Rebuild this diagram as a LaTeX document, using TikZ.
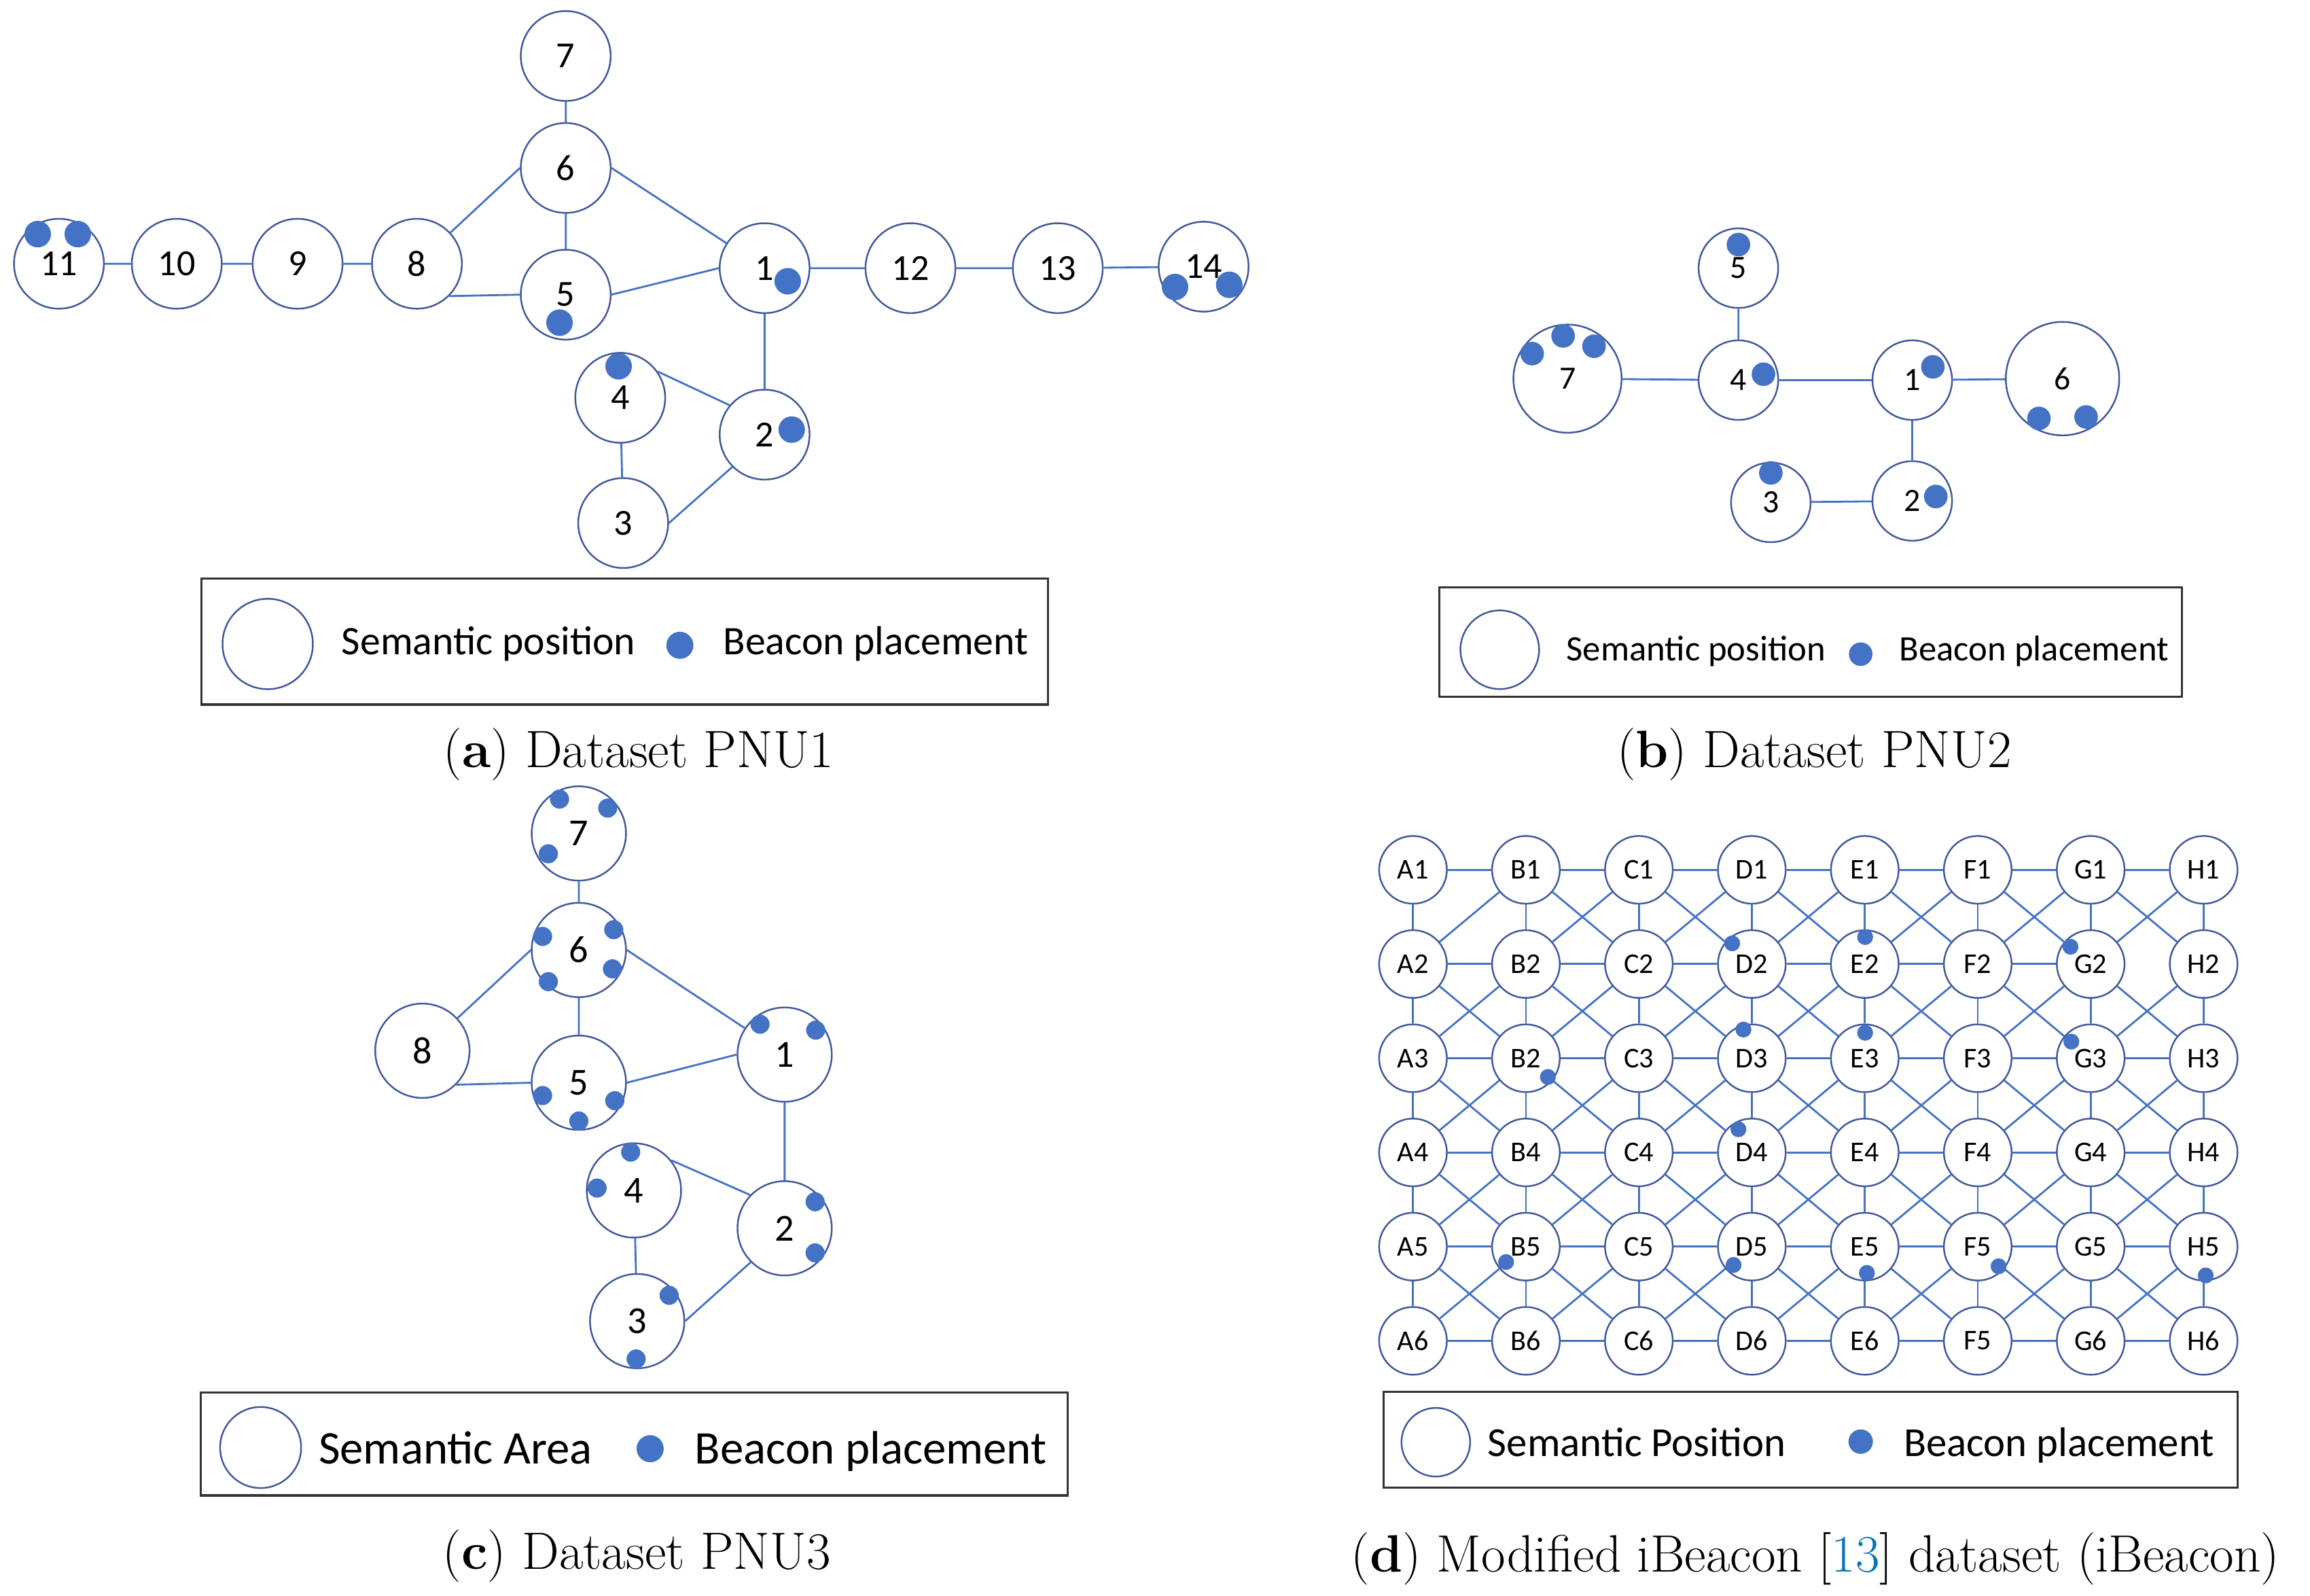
\documentclass[tikz,border=0pt]{standalone}
\usepackage{fontspec}
\newfontfamily\calibri{Carlito}

\definecolor{edgeblue}{HTML}{4472C4}
\definecolor{ringblue}{HTML}{41599A}
\definecolor{dotblue}{HTML}{4472C4}
\definecolor{citeblue}{HTML}{0875B7}

\tikzset{
  link/.style={draw=edgeblue, line width=0.8pt},
  sempos/.style={circle, draw=ringblue, line width=0.7pt, fill=white, inner sep=0pt},
  semA/.style={sempos, minimum size=13.23mm, font=\calibri\fontsize{15.4}{18}\selectfont},
  semB/.style={sempos, minimum size=11.71mm, font=\calibri\fontsize{13.6}{16}\selectfont},
  semC/.style={sempos, minimum size=13.88mm, font=\calibri\fontsize{16}{19}\selectfont},
  semD/.style={sempos, minimum size=9.97mm, font=\calibri\fontsize{12}{14}\selectfont},
  beacon/.style={fill=dotblue},
  legbox/.style={draw=black!80, line width=0.9pt},
  legtext/.style={anchor=base west, inner sep=0pt},
  caption/.style={anchor=base, inner sep=0pt, font=\fontsize{22}{26}\selectfont}
}

\begin{document}
\begin{tikzpicture}[x=0.21684mm, y=-0.21684mm]
\useasboundingbox (0,0) rectangle (1568,1083);

% (a) PNU1
\node[semA] (a7) at (384,38) {7};
\node[semA] (a6) at (384,114) {6};
\node[semA] (a11) at (40,179) {11};
\node[semA] (a10) at (120,179) {10};
\node[semA] (a9) at (202,179) {9};
\node[semA] (a8) at (283,179) {8};
\node[semA] (a5) at (384,200) {5};
\node[semA] (a1) at (519,182) {1};
\node[semA] (a12) at (618,182) {12};
\node[semA] (a13) at (718,182) {13};
\node[semA] (a14) at (817,181) {14};
\node[semA] (a4) at (421,270) {4};
\node[semA] (a2) at (519,295) {2};
\node[semA] (a3) at (423,355) {3};

\draw[link] (a7) -- (a6) (a6) -- (a5) (a8) -- (a6.west) (a6.east) -- (a1)
  (a8.-45) -- (a5.west) (a5.east) -- (a1.west)
  (a11) -- (a10) (a10) -- (a9) (a9) -- (a8)
  (a1) -- (a12) (a12) -- (a13) (a13) -- (a14)
  (a1) -- (a2) (a4.35) -- (a2.140) (a4) -- (a3) (a3.east) -- (a2.-135);

\foreach \x/\y in {25.6/158.9, 52.8/158.9, 379.8/219, 534.7/190.9, 419.9/248.6,
  537.4/291.6, 797.6/194.8, 834.4/193.3}
  \fill[beacon] (\x,\y) circle (9);

\draw[legbox] (136.8,392.8) rectangle (711.3,478.2);
\node[sempos, minimum size=13.3mm] (lega) at (181.7,437.1) {};
\node[legtext, font=\calibri\fontsize{17}{20}\selectfont] (legaspos) at (231.6,444.3) {Semantic position};
\fill[beacon] (461.5,438) circle (9.2);
\node[legtext, font=\calibri\fontsize{17}{20}\selectfont] (legabea) at (490.6,444.3) {Beacon placement};
\node[caption] (capa) at (433.5,520.9) {(\textbf{a}) Dataset PNU1};

% (b) PNU2
\node[semB] (b5) at (1180,182) {5};
\node[semB, minimum size=15.92mm] (b7) at (1064,257) {7};
\node[semB] (b4) at (1180,258) {4};
\node[semB] (b1) at (1298,258) {1};
\node[semB, minimum size=16.7mm] (b6) at (1400,257) {6};
\node[semB] (b3) at (1202,341) {3};
\node[semB] (b2) at (1298,340) {2};

\draw[link] (b5) -- (b4) (b7) -- (b4) (b4) -- (b1) (b1) -- (b6)
  (b1) -- (b2) (b3) -- (b2);

\foreach \x/\y in {1180/166, 1040/240, 1061/228, 1082/235, 1197/254, 1312/249,
  1384/284, 1416/283, 1202/321, 1314/337}
  \fill[beacon] (\x,\y) circle (8);

\draw[legbox] (977,398.6) rectangle (1481,473);
\node[sempos, minimum size=11.58mm] (legb) at (1018,441) {};
\node[legtext, font=\calibri\fontsize{15}{18}\selectfont] (legbspos) at (1063,448.6) {Semantic position};
\fill[beacon] (1263,444) circle (8);
\node[legtext, font=\calibri\fontsize{15}{18}\selectfont] (legbbea) at (1289,448.6) {Beacon placement};
\node[caption] (capb) at (1231.5,521) {(\textbf{b}) Dataset PNU2};

% (c) PNU3
\node[semC] (c7) at (392.9,565.7) {7};
\node[semC] (c6) at (392.9,644.8) {6};
\node[semC] (c8) at (286.7,713.2) {8};
\node[semC] (c5) at (392.9,734.9) {5};
\node[semC] (c1) at (532.6,715.8) {1};
\node[semC] (c4) at (430.3,808) {4};
\node[semC] (c2) at (532.6,833.7) {2};
\node[semC] (c3) at (432.5,896.7) {3};

\draw[link] (c7) -- (c6) (c6) -- (c5) (c8) -- (c6.west) (c6.east) -- (c1)
  (c8.-45) -- (c5.west) (c5.east) -- (c1.west)
  (c1) -- (c2) (c4.39) -- (c2.136) (c4) -- (c3) (c3.east) -- (c2.-135);

\foreach \x/\y in {379.8/542.4, 412.5/548.5, 372.2/579.5,
  368.3/635.6, 416.6/631, 372.2/666.3, 415.7/657.6,
  368.3/743.6, 417.3/747.1, 392.9/760.9,
  515.9/695.2, 553.7/699.2, 428.1/782, 405.3/806.4,
  553.3/815.7, 553.3/850.4, 454.2/879.2, 431.8/922.4}
  \fill[beacon] (\x,\y) circle (6.5);

\draw[legbox] (136.2,945.3) rectangle (724.6,1015);
\node[sempos, minimum size=11.93mm] (legc) at (176.9,982.5) {};
\node[legtext, font=\calibri\fontsize{19.6}{23}\selectfont] (legcarea) at (216,993.5) {Semantic Area};
\fill[beacon] (441.3,983.3) circle (9.2);
\node[legtext, font=\calibri\fontsize{19.6}{23}\selectfont] (legcbea) at (471.4,993.5) {Beacon placement};
\node[caption] (capc) at (432.2,1065.2) {(\textbf{c}) Dataset PNU3};

% (d) modified iBeacon grid
\foreach \c [count=\i from 0] in {A,B,C,D,E,F,G,H}
  \foreach \r in {1,...,6}{
    \def\lbl{\c\r}
    \ifnum\i\r=13 \def\lbl{B2}\fi
    \ifnum\i\r=56 \def\lbl{F5}\fi
    \node[semD] (d\c\r) at ({959.1+76.67*\i},{590.4+63.94*(\r-1)}) {\lbl};
  }

\def\skiphor{G2}
\def\skipdiag{A1}
\foreach \c/\n in {A/B,B/C,C/D,D/E,E/F,F/G,G/H}{
  \foreach \r in {1,...,6}{
    \edef\pair{\c\r}
    \ifx\pair\skiphor\else \draw[link] (d\c\r) -- (d\n\r);\fi
  }
  \foreach \r [count=\s from 2] in {1,...,5}{
    \draw[link] (d\c\s) -- (d\n\r);
    \edef\pair{\c\r}
    \ifx\pair\skipdiag\else \draw[link] (d\c\r) -- (d\n\s);\fi
  }
}
\foreach \c in {A,B,C,D,E,F,G,H}
  \foreach \r [count=\s from 2] in {1,...,5}
    \draw[link] (d\c\r) -- (d\c\s);

\foreach \x/\y in {1175.8/640.3, 1266/636, 1183.4/698.8, 1266/701, 1050.7/731,
  1405.4/642.6, 1406/707, 1180/766.5, 1022.3/856.6, 1176.7/858.6,
  1267.2/864, 1356.6/859.5, 1497.2/865.7}
  \fill[beacon] (\x,\y) circle (5.4);

\draw[legbox] (939,944.7) rectangle (1519,1009.8);
\node[sempos, minimum size=10.1mm] (legd) at (974.6,978.9) {};
\node[legtext, font=\calibri\fontsize{17.3}{20}\selectfont] (legdspos) at (1009.6,988.4) {Semantic Position};
\fill[beacon] (1263,978.5) circle (8.3);
\node[legtext, font=\calibri\fontsize{17.3}{20}\selectfont] (legdbea) at (1291.9,988.4) {Beacon placement};
\node[caption] (capd) at (1232.2,1067) {(\textbf{d}) Modified iBeacon [{\color{citeblue}13}] dataset (iBeacon)};

\end{tikzpicture}
\end{document}
